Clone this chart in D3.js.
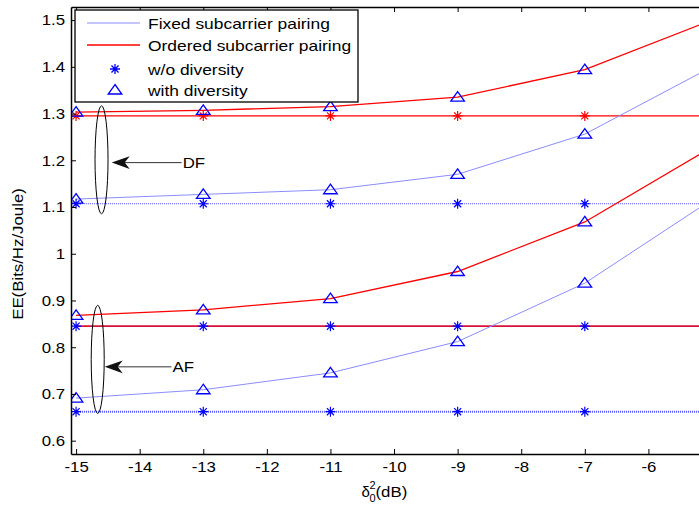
<!DOCTYPE html>
<html>
<head>
<meta charset="utf-8">
<script src="https://cdn.jsdelivr.net/npm/d3@7"></script>
<style>
  body { margin: 0; background: #fff; }
  text { font-family: "Liberation Sans", Arial, sans-serif; fill: #000; }
</style>
</head>
<body>
<svg id="chart" width="699" height="508"></svg>
<script>
// x values: noise variance in dB
const noiseDb = [-15, -13, -11, -9, -7, -5];

// EE with diversity
const dfOrderedDiv = [1.303, 1.307, 1.315, 1.335, 1.394, 1.500];
const dfFixedDiv   = [1.117, 1.127, 1.137, 1.170, 1.256, 1.400];
const afOrderedDiv = [0.868, 0.880, 0.904, 0.962, 1.068, 1.228];
const afFixedDiv   = [0.691, 0.709, 0.745, 0.812, 0.937, 1.116];

// EE without diversity (flat)
const dfOrderedNoDiv = [1.295, 1.295, 1.295, 1.295, 1.295, 1.295];
const dfFixedNoDiv   = [1.107, 1.107, 1.107, 1.107, 1.107, 1.107];
const afOrderedNoDiv = [0.845, 0.845, 0.845, 0.845, 0.845, 0.845];
const afFixedNoDiv   = [0.662, 0.662, 0.662, 0.662, 0.662, 0.662];

// -5 is past the right edge of the picture
const xTicks = [-15, -14, -13, -12, -11, -10, -9, -8, -7, -6];
const yTicks = [0.6, 0.7, 0.8, 0.9, 1, 1.1, 1.2, 1.3, 1.4, 1.5];

const legendLabels = ["Fixed subcarrier pairing", "Ordered subcarrier pairing", "w/o diversity", "with diversity"];

// annotation ellipses + arrows, in data coordinates
const groupNames = ["DF", "AF"];
const groupCenterX = [-14.6, -14.66];
const groupCenterY = [1.201, 0.774];
const arrowFromX = [-13.34, -13.5];
const arrowToX = [-14.44, -14.55];
const arrowY = [1.195, 0.758];

const svg = d3.select("#chart");
const mLeft = 71, mTop = 7, mRight = 712, mBottom = 454;

let x = d3.scaleLinear().domain([-15.08, -5]).range([mLeft, mRight]);
let y = d3.scaleLinear().domain([0.5715, 1.528]).range([mBottom, mTop]);

svg.append("rect").attr("width", 699).attr("height", 508).attr("fill", "#fff");

svg.append("clipPath").attr("id", "plotClip")
    .append("rect").attr("x", mLeft).attr("y", mTop)
    .attr("width", mRight - mLeft).attr("height", mBottom - mTop);

const fixedLine = "#8c8cff", redLine = "#ff0000";

let series = [
    {v: dfFixedNoDiv, color: "#4d4dff", w: 1, dash: "1,1", marker: "star", mc: "#0000ff"},
    {v: afFixedNoDiv, color: "#4d4dff", w: 2, dash: "1,1", marker: "star", mc: "#0000ff"},
    {v: dfOrderedNoDiv, color: redLine, w: 1.3, dash: null, marker: "star", mc: "#ff0000"},
    {v: afOrderedNoDiv, color: "#d8103c", w: 1.8, dash: null, marker: "star", mc: "#0000ff"},
    {v: dfFixedDiv, color: fixedLine, w: 1, dash: null, marker: "tri", mc: "#0000ff"},
    {v: afFixedDiv, color: fixedLine, w: 1, dash: null, marker: "tri", mc: "#0000ff"},
    {v: dfOrderedDiv, color: redLine, w: 1.3, dash: null, marker: "tri", mc: "#0000ff"},
    {v: afOrderedDiv, color: redLine, w: 1.3, dash: null, marker: "tri", mc: "#0000ff"}
];

function starPath(r) {
    const a = r * 0.7071;
    return `M${-r},0H${r}M0,${-r}V${r}M${-a},${-a}L${a},${a}M${-a},${a}L${a},${-a}`;
}
const triPath = "M0,-5.5L6.8,4L-6.8,4Z";

const plot = svg.append("g").attr("clip-path", "url(#plotClip)");

let line = d3.line()
    .x((d, i) => x(noiseDb[i]))
    .y(d => y(d));

plot.selectAll("path.series")
    .data(series)
    .join("path")
    .attr("class", "series")
    .attr("d", d => line(d.v))
    .attr("fill", "none")
    .attr("stroke", d => d.color)
    .attr("stroke-width", d => d.w)
    .attr("stroke-dasharray", d => d.dash);

series.forEach(function (s) {
    plot.append("g").selectAll("path")
        .data(s.v)
        .join("path")
        .attr("transform", (d, i) => `translate(${x(noiseDb[i])},${y(d)})`)
        .attr("d", s.marker == "star" ? starPath(5) : triPath)
        .attr("fill", "none")
        .attr("stroke", s.mc)
        .attr("stroke-width", s.marker == "star" ? 1.2 : 1.3);
});

// axes
let xAxis = svg.append("g")
    .attr("transform", `translate(0,${mBottom})`)
    .call(d3.axisBottom(x).tickValues(xTicks).tickSize(-5).tickSizeOuter(0).tickPadding(7)
        .tickFormat(d => String(d)));
let xTop = svg.append("g")
    .attr("transform", `translate(0,${mTop})`)
    .call(d3.axisTop(x).tickValues(xTicks).tickSize(-5).tickSizeOuter(0).tickFormat(""));
let yAxis = svg.append("g")
    .attr("transform", `translate(${mLeft},0)`)
    .call(d3.axisLeft(y).tickValues(yTicks).tickSize(-5).tickSizeOuter(0).tickPadding(6)
        .tickFormat(d => String(d)));

[xAxis, xTop, yAxis].forEach(function (g) {
    g.select(".domain").attr("stroke", "#000").attr("stroke-width", 1.5);
    g.selectAll(".tick line").attr("stroke", "#000");
    g.selectAll(".tick text").attr("font-size", 15).attr("fill", "#000")
        .attr("font-family", "Liberation Sans, Arial, sans-serif");
});

// axis titles
svg.append("text")
    .attr("transform", "translate(23,254) rotate(-90)")
    .attr("text-anchor", "middle")
    .attr("font-size", 15)
    .attr("class", "stretch")
    .text("EE(Bits/Hz/Joule)");

const xl = (mLeft + mRight) / 2 - 30;
svg.append("text").attr("x", xl).attr("y", 497).attr("font-size", 15).text("δ");
svg.append("text").attr("x", xl + 8).attr("y", 489).attr("font-size", 11).text("2");
svg.append("text").attr("x", xl + 8).attr("y", 502).attr("font-size", 11).text("0");
svg.append("text").attr("x", xl + 14).attr("y", 497).attr("font-size", 15)
    .attr("class", "stretch").text("(dB)");

// annotations
groupNames.forEach(function (name, i) {
    svg.append("ellipse")
        .attr("cx", x(groupCenterX[i])).attr("cy", y(groupCenterY[i]))
        .attr("rx", 6.5).attr("ry", 54)
        .attr("fill", "none").attr("stroke", "#000").attr("stroke-width", 1);
    const x0 = x(arrowFromX[i]), x1 = x(arrowToX[i]), ay = y(arrowY[i]);
    svg.append("line")
        .attr("x1", x0).attr("x2", x1 + 10).attr("y1", ay).attr("y2", ay)
        .attr("stroke", "#333").attr("stroke-width", 1);
    svg.append("path")
        .attr("d", `M${x1},${ay}L${x1 + 18},${ay - 6.3}L${x1 + 13},${ay}L${x1 + 18},${ay + 6.3}Z`)
        .attr("fill", "#111");
    svg.append("text")
        .attr("x", x0 + 1).attr("y", ay + 5.5)
        .attr("font-size", 15).attr("class", "stretch")
        .text(name);
});

// legend
const lg = svg.append("g");
lg.append("rect")
    .attr("x", 75).attr("y", 10).attr("width", 283).attr("height", 92)
    .attr("fill", "#fff").attr("stroke", "#000").attr("stroke-width", 1.3);
const legendY = [23, 45, 69, 90];
const legendKinds = ["fixed", "ordered", "star", "tri"];
legendLabels.forEach(function (label, i) {
    const ly = legendY[i];
    if (legendKinds[i] == "fixed" || legendKinds[i] == "ordered") {
        lg.append("line")
            .attr("x1", 87).attr("x2", 140).attr("y1", ly).attr("y2", ly)
            .attr("stroke", legendKinds[i] == "fixed" ? fixedLine : redLine)
            .attr("stroke-width", legendKinds[i] == "fixed" ? 1 : 1.3);
    } else {
        lg.append("path")
            .attr("transform", `translate(115,${ly})`)
            .attr("d", legendKinds[i] == "star" ? starPath(5) : triPath)
            .attr("fill", "none").attr("stroke", "#0000ff").attr("stroke-width", 1.3);
    }
    lg.append("text")
        .attr("x", 148).attr("y", ly + 5.5)
        .attr("font-size", 15).attr("class", "stretch legend")
        .text(label);
});

// MATLAB text is a bit wider than Arial, stretch it
svg.selectAll("text.stretch, .tick text").each(function () {
    const L = this.getComputedTextLength();
    const k = this.classList.contains("legend") ? 1.16 : 1.12;
    d3.select(this).attr("textLength", L * k).attr("lengthAdjust", "spacingAndGlyphs");
});
</script>
</body>
</html>
